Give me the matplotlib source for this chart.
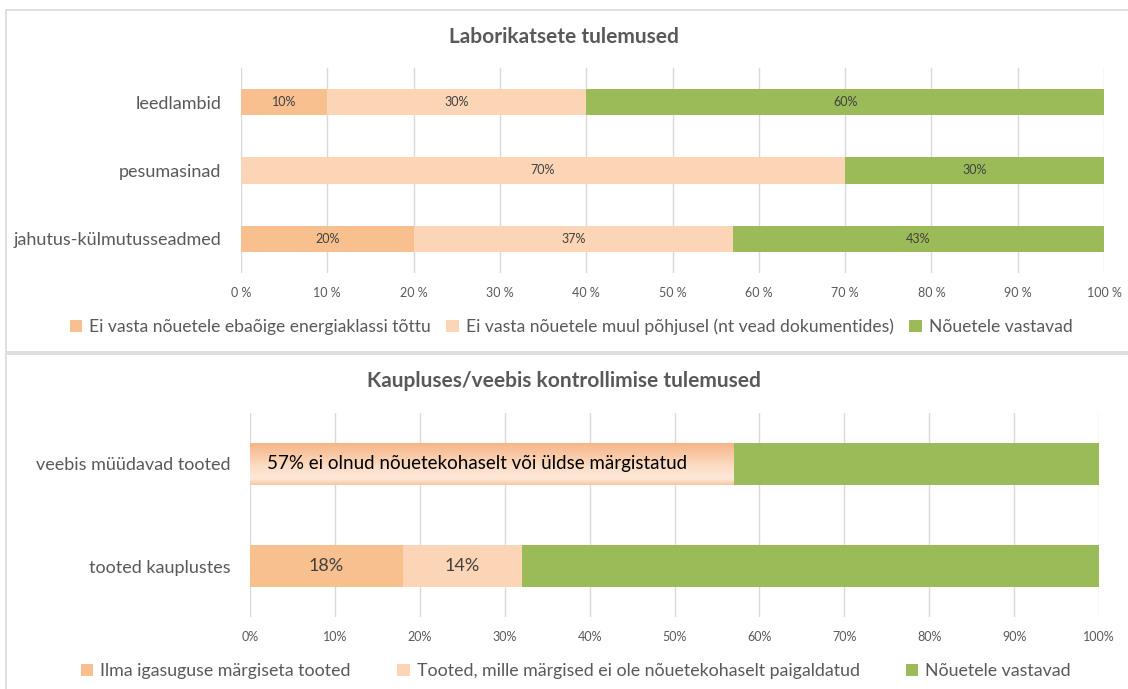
import numpy as np
import matplotlib.pyplot as plt
from matplotlib.patches import Rectangle
from matplotlib.colors import LinearSegmentedColormap

plt.rcParams['font.family'] = ['Lato', 'DejaVu Sans']

# top chart data
lab_categories = ['leedlambid', 'pesumasinad', 'jahutus-külmutusseadmed']
lab_energy = [10, 0, 20]
lab_other = [30, 70, 37]
lab_ok = [60, 30, 43]
lab_series = ['Ei vasta nõuetele ebaõige energiaklassi tõttu',
              'Ei vasta nõuetele muul põhjusel (nt vead dokumentides)',
              'Nõuetele vastavad']

# bottom chart data
shop_categories = ['veebis müüdavad tooted', 'tooted kauplustes']
shop_nolabel = [0, 18]
shop_badlabel = [0, 14]
shop_web_bad = [57, 0]
shop_ok = [43, 68]
shop_series = ['Ilma igasuguse märgiseta tooted',
               'Tooted, mille märgised ei ole nõuetekohaselt paigaldatud',
               'Nõuetele vastavad']
web_note = 'ei olnud nõuetekohaselt või üldse märgistatud'

c_dark = '#F8BF8F'
c_light = '#FBD5B5'
c_green = '#9BBB59'
txt = '#595959'

fig = plt.figure(figsize=(11.28, 6.89), dpi=100)

# panel frames
fig.add_artist(Rectangle((6 / 1128, 1 - 352 / 689), 1.2, 342 / 689, transform=fig.transFigure,
                         facecolor='white', edgecolor='#D9D9D9', lw=1.2, zorder=-5))
fig.add_artist(Rectangle((6 / 1128, -0.05), 1.2, 1 - 354 / 689 + 0.05, transform=fig.transFigure,
                         facecolor='white', edgecolor='#D9D9D9', lw=1.2, zorder=-5))


def style_axis(ax, fmt):
    for s in ax.spines.values():
        s.set_visible(False)
    ax.set_xlim(0, 100)
    ax.set_xticks(range(0, 101, 10))
    ax.set_xticklabels([fmt.format(v) for v in range(0, 101, 10)])
    ax.xaxis.grid(True, color='#D9D9D9', lw=1)
    ax.set_axisbelow(True)
    ax.tick_params(length=0, colors=txt)
    ax.set_facecolor('none')


# ---- top chart
ax1 = fig.add_axes([241 / 1128, 1 - 273 / 689, 863 / 1128, 205 / 689])
y1 = np.arange(len(lab_categories))
h1 = 0.39
left = np.zeros(len(y1))
for vals, col, name in zip([lab_energy, lab_other, lab_ok], [c_dark, c_light, c_green], lab_series):
    bars = ax1.barh(y1, vals, left=left, height=h1, color=col, label=name)
    for b, v in zip(bars, vals):
        if v > 0:
            ax1.text(b.get_x() + b.get_width() / 2, b.get_y() + b.get_height() / 2, f'{v}%',
                     ha='center', va='center', fontsize=9, color='#404040')
    left = left + np.array(vals)
style_axis(ax1, '{} %')
ax1.set_ylim(2.5, -0.5)
ax1.set_yticks(y1)
ax1.set_yticklabels(lab_categories, fontsize=13)
ax1.tick_params(axis='x', labelsize=9, pad=10)
ax1.tick_params(axis='y', pad=14)
fig.text(0.5, 1 - 37 / 689, 'Laborikatsete tulemused', ha='center', va='center',
         fontsize=15, fontweight='bold', color=txt)
fig.legend(*ax1.get_legend_handles_labels(), loc='center', bbox_to_anchor=(571 / 1128, 1 - 327 / 689),
           ncol=3, frameon=False, fontsize=12.6, handlelength=0.7, handleheight=0.7,
           handletextpad=0.4, columnspacing=0.9, labelcolor=txt)

# ---- bottom chart
ax2 = fig.add_axes([250 / 1128, 1 - 617 / 689, 849 / 1128, 204 / 689])
y2 = np.arange(len(shop_categories))
h2 = 0.41
left = np.zeros(len(y2))
b_dark = ax2.barh(y2, shop_nolabel, left=left, height=h2, color=c_dark, label=shop_series[0])
left = left + np.array(shop_nolabel)
b_light = ax2.barh(y2, shop_badlabel, left=left, height=h2, color=c_light, label=shop_series[1])
left = left + np.array(shop_badlabel)
b_web = ax2.barh(y2, shop_web_bad, left=left, height=h2, color=c_dark)
left = left + np.array(shop_web_bad)
ax2.barh(y2, shop_ok, left=left, height=h2, color=c_green, label=shop_series[2])

for bars, vals in [(b_dark, shop_nolabel), (b_light, shop_badlabel)]:
    for b, v in zip(bars, vals):
        if v > 0:
            ax2.text(b.get_x() + b.get_width() / 2, b.get_y() + b.get_height() / 2, f'{v}%',
                     ha='center', va='center', fontsize=13, color='#404040')

# gradient fill for the web bar
grad_cmap = LinearSegmentedColormap.from_list(
    'g', [(0, '#F6B587'), (0.55, '#FCDCC4'), (0.85, '#FEE9DA'), (1, '#F9C6A0')])
for b, v in zip(b_web, shop_web_bad):
    if v > 0:
        y0, y1_ = b.get_y(), b.get_y() + b.get_height()
        im = ax2.imshow(np.linspace(0, 1, 64).reshape(-1, 1), cmap=grad_cmap, aspect='auto',
                        extent=[b.get_x(), b.get_x() + v, y1_, y0], zorder=2.5)
        im.set_clip_path(b)
        ax2.text(b.get_x() + 2, b.get_y() + b.get_height() / 2, f'{v}% {web_note}',
                 ha='left', va='center', fontsize=13.5, color='black', zorder=3)

style_axis(ax2, '{}%')
ax2.set_ylim(1.5, -0.5)
ax2.set_yticks(y2)
ax2.set_yticklabels(shop_categories, fontsize=13)
ax2.tick_params(axis='x', labelsize=9, pad=10)
ax2.tick_params(axis='y', pad=14)
fig.text(0.5, 1 - 381 / 689, 'Kaupluses/veebis kontrollimise tulemused', ha='center', va='center',
         fontsize=15, fontweight='bold', color=txt)
fig.legend(*ax2.get_legend_handles_labels(), loc='center', bbox_to_anchor=(576 / 1128, 1 - 671 / 689),
           ncol=3, frameon=False, fontsize=12.8, handlelength=0.7, handleheight=0.7,
           handletextpad=0.4, columnspacing=2.6, labelcolor=txt)

fig.savefig('out.png', dpi=100)
